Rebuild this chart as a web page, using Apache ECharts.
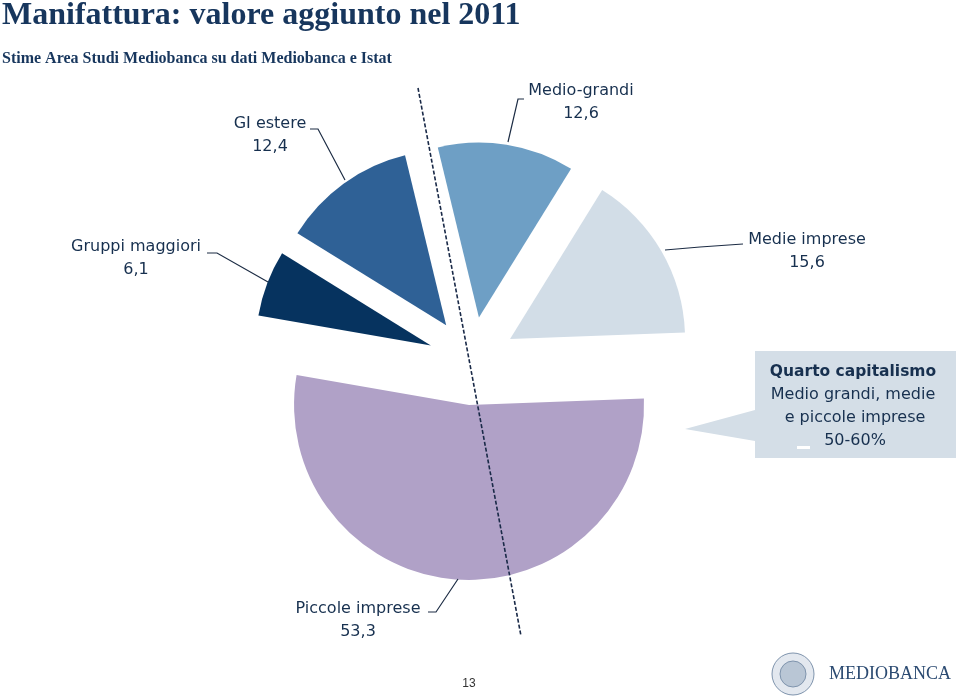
<!DOCTYPE html>
<html><head><meta charset="utf-8">
<script src="https://cdn.jsdelivr.net/npm/echarts@6/dist/echarts.min.js"></script>
<style>html,body{margin:0;padding:0;background:#fff}#c{width:960px;height:699px}</style>
</head><body><div id="c"></div><script>
// ---- data ----
const categories = ['Gruppi maggiori', 'GI estere', 'Medio-grandi', 'Medie imprese', 'Piccole imprese'];
const values = [6.1, 12.4, 12.6, 15.6, 53.3];
const calloutLines = ['Quarto capitalismo', 'Medio grandi, medie', 'e piccole imprese', '50-60%'];
const titleText = 'Manifattura: valore aggiunto nel 2011';
const subtitleText = 'Stime Area Studi Mediobanca su dati Mediobanca e Istat';
const pageNumber = '13';

// ---- styles / layout ----
const sliceColors = ['#06335f', '#2f6196', '#6e9fc5', '#d2dde7', '#b0a1c7'];
const textColor = '#17304f';
const labelSpots = [
  { x: 136, y: 258, line: [[268, 282], [217, 253], [207, 253]] },
  { x: 270, y: 135, line: [[345, 180], [318, 129], [310, 129]] },
  { x: 581, y: 102, line: [[508, 142], [518, 99], [524, 99]] },
  { x: 807, y: 251, line: [[665, 250], [700, 247], [743, 244]] },
  { x: 358, y: 620, line: [[458, 579], [436, 612], [428, 612]] }
];

const fmt = v => v.toFixed(1).replace('.', ',');

const labelGraphics = [];
categories.forEach((n, i) => {
  const s = labelSpots[i];
  labelGraphics.push({
    type: 'text', z: 15, x: s.x, y: s.y,
    style: { text: n + '\n' + fmt(values[i]), font: '16px "DejaVu Sans"', lineHeight: 23, fill: textColor, align: 'center', verticalAlign: 'middle' }
  });
  labelGraphics.push({
    type: 'polyline', z: 15, shape: { points: s.line },
    style: { stroke: '#1c2c44', lineWidth: 1.2, fill: null }
  });
});

const chart = echarts.init(document.getElementById('c'), null, { renderer: 'canvas' });
chart.setOption({
  animation: false,
  backgroundColor: '#ffffff',
  series: [{
    type: 'pie',
    center: [472, 361],
    radius: [0, 175],
    startAngle: 170.2,
    clockwise: true,
    selectedMode: 'multiple',
    selectedOffset: 44,
    emphasis: { disabled: true },
    silent: true,
    label: { show: false },
    labelLine: { show: false },
    data: categories.map((n, i) => ({
      name: n, value: values[i], selected: true,
      itemStyle: { color: sliceColors[i] }
    }))
  }],
  graphic: labelGraphics.concat([
    { type: 'text', left: 2, top: 0, z: 10, style: { text: titleText, font: 'bold 32px "Liberation Serif"', fill: '#17365d' } },
    { type: 'text', left: 2, top: 51, z: 10, style: { text: subtitleText, font: 'bold 16px "Liberation Serif"', fill: '#17365d' } },
    { type: 'line', z: 20, shape: { x1: 418, y1: 88, x2: 521, y2: 636 }, style: { stroke: '#1a2a48', lineWidth: 1.6, lineDash: [4, 2] } },
    { type: 'polygon', z: 10, shape: { points: [[755, 351], [956, 351], [956, 458], [755, 458], [755, 441], [685, 429], [755, 410]] }, style: { fill: '#d4dee7' } },
    { type: 'text', z: 11, x: 853, y: 372, style: { text: calloutLines[0], font: 'bold 15.5px "DejaVu Sans"', fill: '#17304f', align: 'center', verticalAlign: 'middle' } },
    { type: 'text', z: 11, x: 853, y: 395, style: { text: calloutLines[1], font: '16px "DejaVu Sans"', fill: '#17304f', align: 'center', verticalAlign: 'middle' } },
    { type: 'text', z: 11, x: 855, y: 418, style: { text: calloutLines[2], font: '16px "DejaVu Sans"', fill: '#17304f', align: 'center', verticalAlign: 'middle' } },
    { type: 'text', z: 11, x: 855, y: 441, style: { text: calloutLines[3], font: '16px "DejaVu Sans"', fill: '#17304f', align: 'center', verticalAlign: 'middle' } },
    { type: 'rect', z: 12, shape: { x: 797, y: 446, width: 13, height: 3 }, style: { fill: '#ffffff' } },
    { type: 'text', z: 11, x: 469, y: 684, style: { text: pageNumber, font: '12px "Liberation Sans"', fill: '#333333', align: 'center', verticalAlign: 'middle' } },
    { type: 'circle', z: 11, shape: { cx: 793, cy: 674, r: 21 }, style: { fill: '#e3e8ef', stroke: '#7f94ad', lineWidth: 1 } },
    { type: 'circle', z: 11, shape: { cx: 793, cy: 674, r: 13 }, style: { fill: '#b9c6d5', stroke: '#7f94ad', lineWidth: 1 } },
    { type: 'text', z: 11, x: 829, y: 674, style: { text: 'MEDIOBANCA', font: '18px "Liberation Serif"', fill: '#2c4b72', verticalAlign: 'middle' } }
  ])
});
</script></body></html>
